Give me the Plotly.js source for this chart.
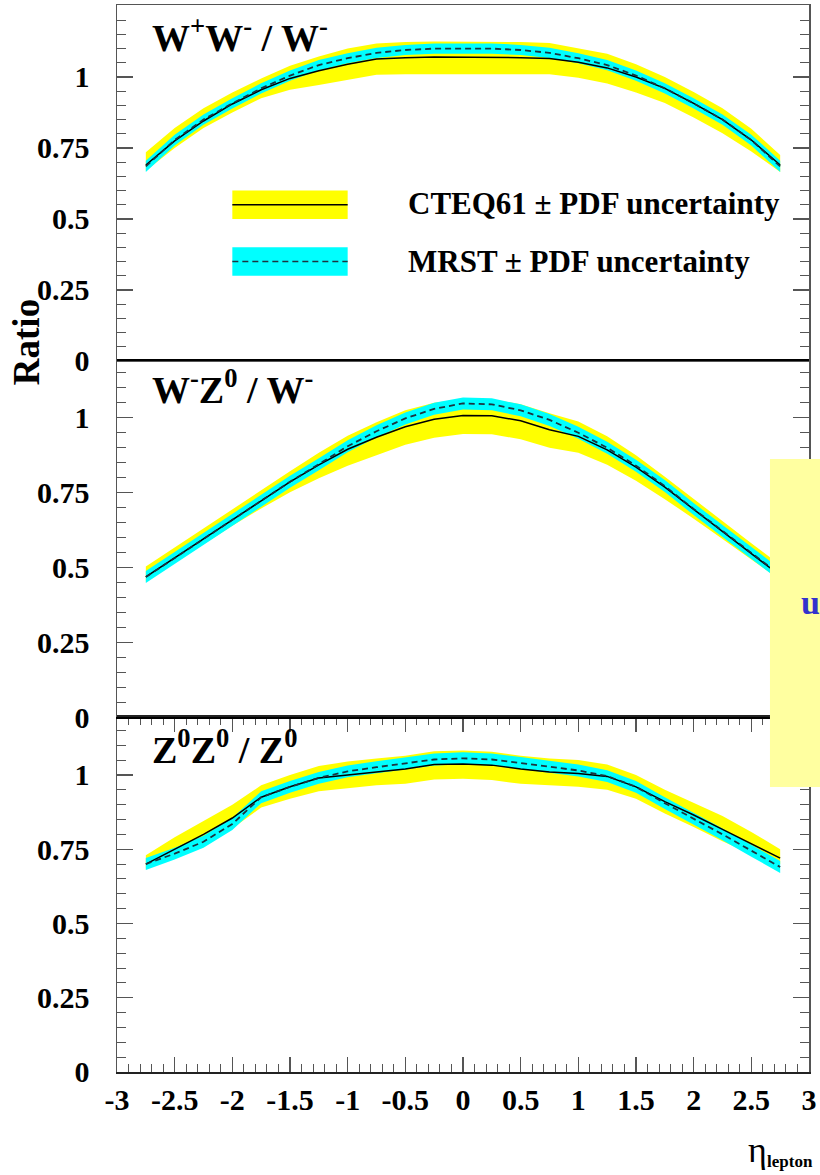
<!DOCTYPE html>
<html>
<head>
<meta charset="utf-8">
<script src="https://cdn.plot.ly/plotly-3.0.1.min.js"></script>
<style>html,body{margin:0;padding:0;background:#fff;}</style>
</head>
<body>
<div id="chart" style="width:820px;height:1175px;"></div>
<script>
// ---------------- data ----------------
const eta = [-2.75,-2.5,-2.25,-2,-1.75,-1.5,-1.25,-1,-0.75,-0.5,-0.25,0,0.25,0.5,0.75,1,1.25,1.5,1.75,2,2.25,2.5,2.75];

// W+W- / W-
const cteqWW    = [0.690,0.775,0.845,0.905,0.955,0.995,1.022,1.045,1.063,1.068,1.070,1.070,1.070,1.068,1.065,1.052,1.032,1.000,0.960,0.907,0.850,0.778,0.690];
const cteqWWup  = [0.735,0.820,0.890,0.945,0.995,1.040,1.072,1.100,1.118,1.123,1.125,1.125,1.125,1.123,1.120,1.102,1.082,1.045,1.000,0.947,0.890,0.818,0.725];
const cteqWWlo  = [0.670,0.750,0.820,0.875,0.925,0.955,0.972,0.990,1.008,1.010,1.010,1.008,1.010,1.010,1.010,0.997,0.977,0.945,0.908,0.857,0.802,0.738,0.665];
const mrstWW    = [0.685,0.778,0.850,0.907,0.960,1.005,1.042,1.066,1.085,1.095,1.100,1.101,1.100,1.095,1.085,1.066,1.042,1.005,0.960,0.907,0.850,0.778,0.685];
const mrstWWup  = [0.705,0.797,0.868,0.925,0.978,1.023,1.060,1.084,1.103,1.113,1.118,1.119,1.118,1.113,1.103,1.084,1.060,1.023,0.978,0.925,0.868,0.797,0.705];
const mrstWWlo  = [0.665,0.759,0.832,0.889,0.942,0.987,1.024,1.048,1.067,1.077,1.082,1.083,1.082,1.077,1.067,1.048,1.024,0.987,0.942,0.889,0.832,0.759,0.665];

// W-Z0 / W-
const cteqWZ    = [0.468,0.532,0.595,0.659,0.722,0.786,0.843,0.895,0.935,0.970,0.995,1.008,1.007,0.990,0.960,0.938,0.893,0.835,0.768,0.693,0.620,0.546,0.473];
const cteqWZup  = [0.503,0.567,0.630,0.694,0.757,0.821,0.883,0.940,0.985,1.025,1.050,1.063,1.062,1.045,1.015,0.988,0.938,0.875,0.803,0.728,0.655,0.581,0.508];
const cteqWZlo  = [0.453,0.517,0.577,0.639,0.697,0.751,0.798,0.840,0.875,0.910,0.933,0.946,0.945,0.928,0.900,0.883,0.843,0.790,0.728,0.663,0.595,0.526,0.458];
const mrstWZ    = [0.468,0.532,0.595,0.659,0.722,0.786,0.845,0.905,0.955,0.998,1.030,1.048,1.045,1.025,0.993,0.950,0.900,0.840,0.772,0.695,0.622,0.548,0.475];
const mrstWZup  = [0.488,0.552,0.615,0.679,0.742,0.806,0.865,0.925,0.975,1.018,1.050,1.068,1.065,1.045,1.013,0.970,0.920,0.860,0.792,0.715,0.642,0.568,0.495];
const mrstWZlo  = [0.448,0.512,0.575,0.639,0.702,0.766,0.825,0.885,0.935,0.978,1.010,1.028,1.025,1.005,0.973,0.930,0.880,0.820,0.752,0.675,0.602,0.528,0.455];

// Z0Z0 / Z0
const cteqZZ    = [0.700,0.750,0.800,0.855,0.925,0.960,0.990,1.000,1.010,1.020,1.035,1.037,1.033,1.020,1.010,1.005,0.995,0.960,0.910,0.865,0.817,0.768,0.720];
const cteqZZup  = [0.730,0.790,0.845,0.900,0.965,1.000,1.030,1.045,1.055,1.065,1.080,1.082,1.078,1.065,1.055,1.050,1.035,1.000,0.950,0.905,0.862,0.808,0.750];
const cteqZZlo  = [0.685,0.720,0.765,0.820,0.890,0.920,0.945,0.955,0.965,0.970,0.985,0.987,0.983,0.970,0.965,0.960,0.950,0.920,0.870,0.825,0.777,0.733,0.700];
const mrstZZ    = [0.700,0.735,0.775,0.835,0.925,0.960,0.990,1.012,1.026,1.040,1.052,1.056,1.052,1.040,1.028,1.015,0.996,0.960,0.905,0.853,0.800,0.745,0.690];
const mrstZZup  = [0.720,0.755,0.795,0.855,0.945,0.980,1.010,1.032,1.046,1.060,1.072,1.076,1.072,1.060,1.048,1.035,1.016,0.980,0.925,0.873,0.820,0.765,0.710];
const mrstZZlo  = [0.680,0.715,0.755,0.815,0.905,0.940,0.970,0.992,1.006,1.020,1.032,1.036,1.032,1.020,1.008,0.995,0.976,0.940,0.885,0.833,0.780,0.725,0.670];

const panelTitles = ['W<sup>+</sup>W<sup>-</sup> / W<sup>-</sup>', 'W<sup>-</sup>Z<sup>0</sup> / W<sup>-</sup>', 'Z<sup>0</sup>Z<sup>0</sup> / Z<sup>0</sup>'];
const legendLabels = ['CTEQ61 ± PDF uncertainty', 'MRST ± PDF uncertainty'];
const yTickVals = [0, 0.25, 0.5, 0.75, 1];
const yTickText = ['0', '0.25', '0.5', '0.75', '1'];
const xTickVals = [-3,-2.5,-2,-1.5,-1,-0.5,0,0.5,1,1.5,2,2.5,3];
const xTickText = ['-3','-2.5','-2','-1.5','-1','-0.5','0','0.5','1','1.5','2','2.5','3'];

// ---------------- styling ----------------
const YELLOW = '#FFFF00', CYAN = '#00FFFF', DASHC = '#1c3440';
const SERIF = 'Liberation Serif';

function panelTraces(xa, ya, cl, cu, cc, ml, mu, mc) {
  return [
    {x: eta, y: cl, xaxis: xa, yaxis: ya, mode: 'lines', line: {width: 0, color: YELLOW}, hoverinfo: 'skip', showlegend: false},
    {x: eta, y: cu, xaxis: xa, yaxis: ya, mode: 'lines', line: {width: 0, color: YELLOW}, fill: 'tonexty', fillcolor: YELLOW, hoverinfo: 'skip', showlegend: false},
    {x: eta, y: ml, xaxis: xa, yaxis: ya, mode: 'lines', line: {width: 0, color: CYAN}, hoverinfo: 'skip', showlegend: false},
    {x: eta, y: mu, xaxis: xa, yaxis: ya, mode: 'lines', line: {width: 0, color: CYAN}, fill: 'tonexty', fillcolor: CYAN, hoverinfo: 'skip', showlegend: false},
    {x: eta, y: cc, xaxis: xa, yaxis: ya, mode: 'lines', line: {width: 1.5, color: '#000'}, showlegend: false},
    {x: eta, y: mc, xaxis: xa, yaxis: ya, mode: 'lines', line: {width: 1.8, color: DASHC, dash: '6px,4px'}, showlegend: false}
  ];
}

const data = [].concat(
  panelTraces('x3', 'y3', cteqWWlo, cteqWWup, cteqWW, mrstWWlo, mrstWWup, mrstWW),
  panelTraces('x2', 'y2', cteqWZlo, cteqWZup, cteqWZ, mrstWZlo, mrstWZup, mrstWZ),
  panelTraces('x',  'y',  cteqZZlo, cteqZZup, cteqZZ, mrstZZlo, mrstZZup, mrstZZ)
);

const tickFont = {family: SERIF, size: 30, color: '#000', weight: 'bold'};

function yAxis(domain, top) {
  return {
    domain: domain, range: [0, top], fixedrange: true,
    tickmode: 'array', tickvals: yTickVals, ticktext: yTickText,
    ticks: 'inside', ticklen: 16, tickwidth: 1.2, tickcolor: '#555',
    minor: {tickmode: 'linear', tick0: 0, dtick: 0.05, ticks: 'inside', ticklen: 9, tickwidth: 1, tickcolor: '#555'},
    showline: true, linecolor: '#555', linewidth: 1.5, mirror: 'ticks',
    showgrid: false, zeroline: false,
    tickfont: tickFont, ticklabelstandoff: 20
  };
}
function xAxisPlain(anchor, col, w) {
  return {
    anchor: anchor, matches: 'x', range: [-3, 3], showticklabels: false, ticks: '',
    showline: true, linecolor: col, linewidth: w, mirror: true,
    showgrid: false, zeroline: false
  };
}

const layout = {
  width: 820, height: 1175,
  margin: {l: 117, r: 11, t: 5, b: 103},
  paper_bgcolor: '#fff', plot_bgcolor: '#fff',
  showlegend: false,
  xaxis: {
    anchor: 'y', range: [-3, 3],
    tickmode: 'array', tickvals: xTickVals, ticktext: xTickText,
    ticks: 'inside', ticklen: 15, tickwidth: 1.2, tickcolor: '#555',
    minor: {tickmode: 'linear', tick0: -3, dtick: 0.1, ticks: 'inside', ticklen: 8, tickwidth: 1, tickcolor: '#555'},
    showline: true, linecolor: '#222', linewidth: 2, mirror: 'ticks',
    showgrid: false, zeroline: false,
    tickfont: tickFont, ticklabelstandoff: 0
  },
  xaxis2: xAxisPlain('y2', '#000', 2),
  xaxis3: xAxisPlain('y3', '#555', 1.5),
  yaxis:  yAxis([0, 0.3327], 1.195),
  yaxis2: yAxis([0.3327, 0.6664], 1.19),
  yaxis3: yAxis([0.6664, 1], 1.2535),
  shapes: [
    // legend swatches (top panel)
    {type: 'rect', xref: 'x3', yref: 'y3', x0: -2, x1: -1, y0: 0.5, y1: 0.6, fillcolor: YELLOW, line: {width: 0}},
    {type: 'line', xref: 'x3', yref: 'y3', x0: -2, x1: -1, y0: 0.55, y1: 0.55, line: {color: '#000', width: 1.5}},
    {type: 'rect', xref: 'x3', yref: 'y3', x0: -2, x1: -1, y0: 0.3, y1: 0.4, fillcolor: CYAN, line: {width: 0}},
    {type: 'line', xref: 'x3', yref: 'y3', x0: -2, x1: -1, y0: 0.35, y1: 0.35, line: {color: DASHC, width: 1.5, dash: '6px,4px'}},
    // overlapping slide box on the right
    {type: 'rect', xref: 'paper', yref: 'paper', x0: 0.9436, x1: 1.03, y0: 0.2671, y1: 0.5745, fillcolor: '#FFFFA0', line: {width: 0}, layer: 'above'}
  ],
  annotations: [
    {xref: 'x3', yref: 'y3', x: -2.71, y: 1.148, xanchor: 'left', yanchor: 'middle', showarrow: false, text: panelTitles[0], font: {family: SERIF, size: 38, color: '#000', weight: 'bold'}},
    {xref: 'x2', yref: 'y2', x: -2.71, y: 1.103, xanchor: 'left', yanchor: 'middle', showarrow: false, text: panelTitles[1], font: {family: SERIF, size: 38, color: '#000', weight: 'bold'}},
    {xref: 'x',  yref: 'y',  x: -2.71, y: 1.094, xanchor: 'left', yanchor: 'middle', showarrow: false, text: panelTitles[2], font: {family: SERIF, size: 38, color: '#000', weight: 'bold'}},
    {xref: 'x3', yref: 'y3', x: -0.49, y: 0.553, xanchor: 'left', yanchor: 'middle', showarrow: false, text: legendLabels[0], font: {family: SERIF, size: 31, color: '#000', weight: 'bold'}},
    {xref: 'x3', yref: 'y3', x: -0.49, y: 0.352, xanchor: 'left', yanchor: 'middle', showarrow: false, text: legendLabels[1], font: {family: SERIF, size: 31, color: '#000', weight: 'bold'}},
    {xref: 'paper', yref: 'paper', x: -0.1315, y: 0.684, xanchor: 'center', yanchor: 'middle', textangle: -90, showarrow: false, text: 'Ratio', font: {family: SERIF, size: 37, color: '#000', weight: 'bold'}},
    {xref: 'paper', yref: 'paper', x: 0.925, y: -0.0731, xanchor: 'center', yanchor: 'middle', showarrow: false, text: 'η', font: {family: SERIF, size: 36, color: '#000'}},
    {xref: 'paper', yref: 'paper', x: 0.973, y: -0.0843, xanchor: 'center', yanchor: 'middle', showarrow: false, text: 'lepton', font: {family: SERIF, size: 17, color: '#000', weight: 'bold'}},
    {xref: 'paper', yref: 'paper', x: 0.985, y: 0.4396, xanchor: 'left', yanchor: 'middle', showarrow: false, text: 'u', font: {family: SERIF, size: 34, color: '#3333CC', weight: 'bold'}}
  ]
};

Plotly.newPlot('chart', data, layout, {staticPlot: true, displayModeBar: false});
</script>
</body>
</html>
